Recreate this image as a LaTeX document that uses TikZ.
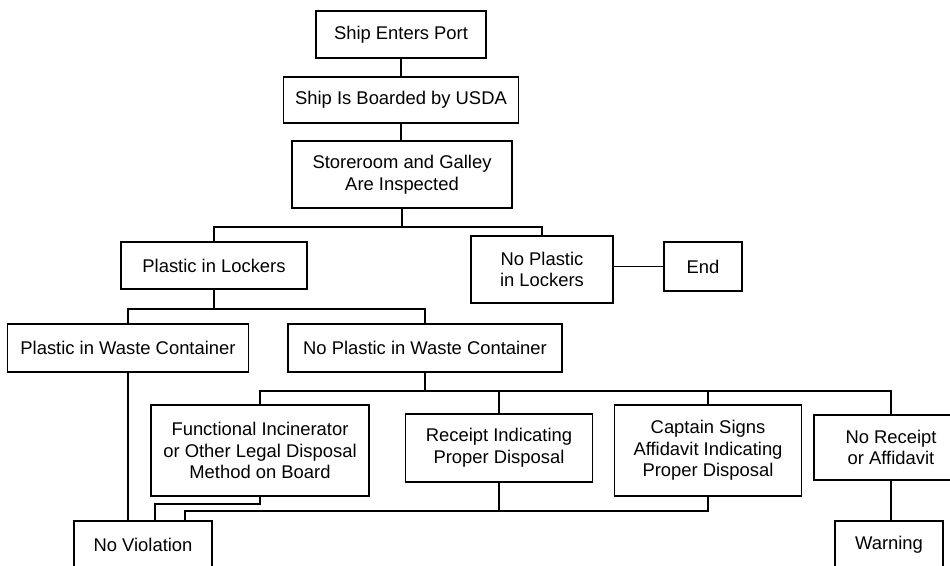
\documentclass[tikz,border=0pt]{standalone}
\usepackage{fontspec}
\setmainfont{Liberation Sans}
\begin{document}
\begin{tikzpicture}[x=1pt,y=-1pt,
  box/.style={draw, line width=1.8pt, inner sep=0pt, align=center,
    font=\fontsize{18.4}{21.7}\selectfont},
  link/.style={line width=1.8pt}]
\fill[white] (0,0) rectangle (950,565);
\clip (0,0) rectangle (950,565);
\node[box, minimum width=170pt, minimum height=47pt] (n1) at (401,34.5) {Ship Enters Port};
\node[box, minimum width=235pt, minimum height=46pt] (n2) at (401,100) {Ship Is Boarded by USDA};
\node[box, minimum width=220pt, minimum height=67pt] (n3) at (402,174.5) {Storeroom and Galley\\Are Inspected};
\node[box, minimum width=186pt, minimum height=47pt] (n4) at (214,265.5) {Plastic in Lockers};
\node[box, minimum width=142pt, minimum height=67pt] (n5) at (542,269.5) {No Plastic\\in Lockers};
\node[box, minimum width=78pt, minimum height=49pt] (n6) at (703,266.5) {End};
\node[box, minimum width=241pt, minimum height=48pt] (n7) at (128,348) {Plastic in Waste Container};
\node[box, minimum width=274pt, minimum height=48pt] (n8) at (425,348) {No Plastic in Waste Container};
\node[box, minimum width=218pt, minimum height=91pt] (n9) at (260,450.5) {Functional Incinerator\\or Other Legal Disposal\\Method on Board};
\node[box, minimum width=187pt, minimum height=68pt] (n10) at (499,448) {Receipt Indicating\\Proper Disposal};
\node[box, minimum width=187pt, minimum height=91pt] (n11) at (708,450.5) {Captain Signs\\Affidavit Indicating\\Proper Disposal};
\node[box, minimum width=154pt, minimum height=65pt] (n12) at (891,447.5) {No Receipt\\or Affidavit};
\node[box, minimum width=138pt, minimum height=48pt] (n13) at (143,545) {No Violation};
\node[box, minimum width=108pt, minimum height=48pt] (n14) at (889,545) {Warning};
\coordinate (b1) at (0,227);
\coordinate (b2) at (0,309);
\coordinate (b3) at (0,391);
\coordinate (b4) at (155,504);
\coordinate (b5) at (185,511);
\draw[link] (n1.south) -- (n1.south |- n2.north);
\draw[link] (n2.south) -- (n2.south |- n3.north);
\draw[link] (n3.south) -- (n3.south |- b1);
\draw[link] (n4.north) -- (n4.north |- b1) -- (n5.north |- b1) -- (n5.north);
\draw[link] (n6.west) -- (n6.west -| n5.east);
\draw[link] (n4.south) -- (n4.south |- b2);
\draw[link] (n7.north) -- (n7.north |- b2) -- (n8.north |- b2) -- (n8.north);
\draw[link] (n8.south) -- (n8.south |- b3);
\draw[link] (n9.north) -- (n9.north |- b3) -- (n12.north |- b3) -- (n12.north);
\draw[link] (n10.north) -- (n10.north |- b3);
\draw[link] (n11.north) -- (n11.north |- b3);
\draw[link] (n7.south) -- (n7.south |- n13.north);
\draw[link] (n9.south) -- (n9.south |- b4) -- (b4) -- (b4 |- n13.north);
\draw[link] (n10.south) -- (n10.south |- b5);
\draw[link] (b5 |- n13.north) -- (b5) -- (n11.south |- b5) -- (n11.south);
\draw[link] (n12.south) -- (n12.south |- n14.north);
\end{tikzpicture}
\end{document}
